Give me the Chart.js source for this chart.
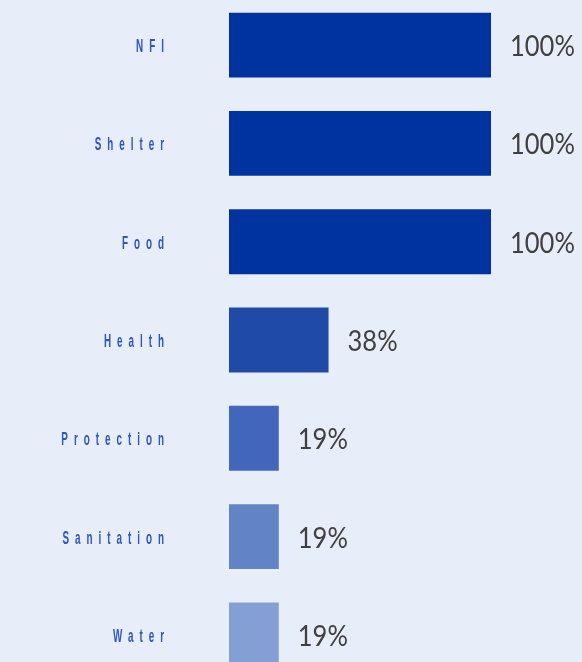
<!DOCTYPE html>
<html lang="en">
<head>
  <meta charset="UTF-8" />
  <title>Sector coverage</title>
  <script src="https://cdn.jsdelivr.net/npm/chart.js"></script>
  <style>
    html, body {
      margin: 0;
      padding: 0;
      width: 582px;
      height: 662px;
      overflow: hidden;
      background: #e7eefa;
    }
    #wrap {
      position: absolute;
      left: 0;
      top: -4px;
      width: 582px;
      height: 688px;
    }
  </style>
</head>
<body>
  <div id="wrap"><canvas id="sectorChart"></canvas></div>

  <script>
    const sectors = ['NFI', 'Shelter', 'Food', 'Health', 'Protection', 'Sanitation', 'Water'];
    const coverage = [100, 100, 100, 38, 19, 19, 19];
    const barColors = ['#0033a0', '#0033a0', '#0033a0', '#1f4aa8', '#4266bb', '#6383c7', '#839fd4'];

    // draws the spaced sector names and the % values next to each bar
    const labelPlugin = {
      id: 'labelPlugin',
      afterDatasetsDraw(chart) {
        const ctx = chart.ctx;
        const meta = chart.getDatasetMeta(0);
        meta.data.forEach((bar, i) => {
          // value
          ctx.save();
          ctx.font = '29px Lato, sans-serif';
          ctx.fillStyle = '#404040';
          ctx.textAlign = 'left';
          ctx.textBaseline = 'alphabetic';
          ctx.translate(bar.x + 19, bar.y + 11);
          ctx.scale(0.88, 1);
          ctx.fillText(coverage[i] + '%', 0, 0);
          ctx.restore();

          // sector name, narrow and letter-spaced
          ctx.save();
          const sx = 0.52;
          const ls = 11.5;
          ctx.font = 'bold 19px "Liberation Sans", sans-serif';
          ctx.letterSpacing = ls + 'px';
          ctx.fillStyle = '#2c56c0';
          ctx.textAlign = 'left';
          ctx.textBaseline = 'alphabetic';
          const w = ctx.measureText(sectors[i]).width - ls;
          ctx.translate(164, bar.y + 7);
          ctx.scale(sx, 1);
          ctx.fillText(sectors[i], -w, 0);
          ctx.restore();
        });
      }
    };

    const ctx = document.getElementById('sectorChart').getContext('2d');
    const chart = new Chart(ctx, {
      type: 'bar',
      data: {
        labels: sectors,
        datasets: [{
          data: coverage,
          backgroundColor: barColors,
          borderWidth: 0,
          barPercentage: 0.66,
          categoryPercentage: 1
        }]
      },
      options: {
        indexAxis: 'y',
        responsive: true,
        maintainAspectRatio: false,
        animation: false,
        layout: {
          padding: { left: 229, right: 91, top: 0, bottom: 0 }
        },
        scales: {
          x: { display: false, min: 0, max: 100 },
          y: { display: false }
        },
        plugins: {
          legend: { display: false },
          tooltip: { enabled: false }
        }
      },
      plugins: [labelPlugin]
    });
  </script>
</body>
</html>
